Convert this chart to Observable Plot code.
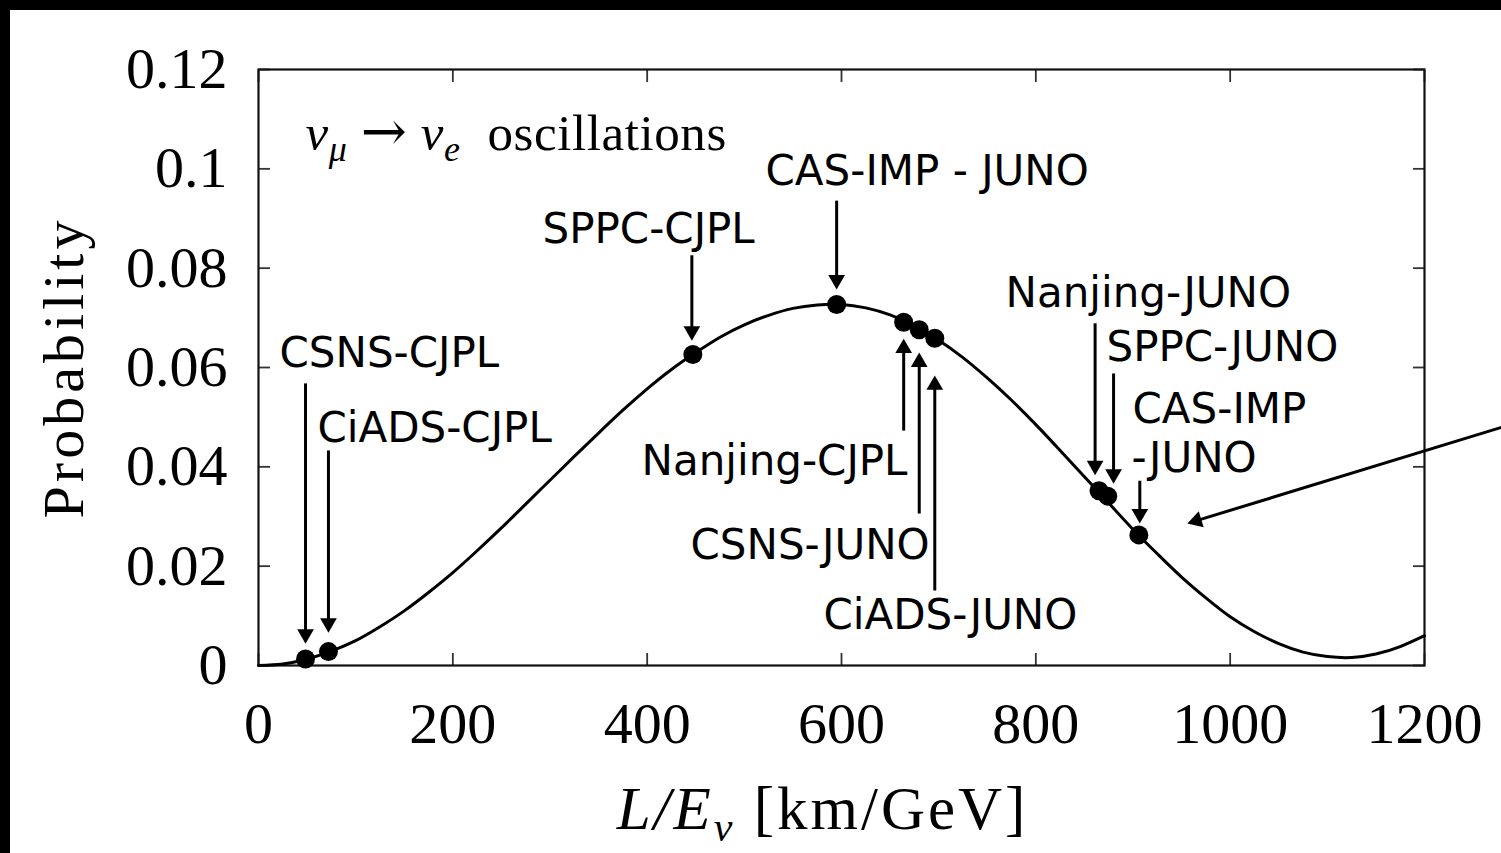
<!DOCTYPE html>
<html><head><meta charset="utf-8">
<script src="https://cdn.jsdelivr.net/npm/d3@7"></script>
<script src="https://cdn.jsdelivr.net/npm/@observablehq/plot@0.6"></script>
<style>
html,body{margin:0;padding:0;background:#fff;}
#wrap{position:relative;width:1501px;height:853px;overflow:hidden;background:#fff;}
#chart{position:absolute;left:0;top:0;}
.bar{position:absolute;background:#000;}
</style></head><body>
<div id="wrap"><div id="chart"></div>
<div class="bar" style="left:0;top:0;width:1501px;height:10px"></div>
<div class="bar" style="left:0;top:0;width:10px;height:853px"></div></div>
<script>
// ---- data ----
const xDomain = [0, 1200];
const yDomain = [0, 0.12];
const xTicks = [0, 200, 400, 600, 800, 1000, 1200];
const xTickLabels = ["0", "200", "400", "600", "800", "1000", "1200"];
const yTicks = [0, 0.02, 0.04, 0.06, 0.08, 0.1, 0.12];
const yTickLabels = ["0", "0.02", "0.04", "0.06", "0.08", "0.1", "0.12"];

const curveX = [0,25,50,75,100,125,150,175,200,225,250,275,300,325,350,375,400,425,450,475,500,525,550,575,600,625,650,675,700,725,750,775,800,825,850,875,900,925,950,975,1000,1025,1050,1075,1100,1125,1150,1175,1200];
const curveP = [0,0.0003,0.0013,0.0029,0.0050,0.0078,0.0110,0.0147,0.0187,0.0231,0.0277,0.0325,0.0373,0.0421,0.0468,0.0514,0.0557,0.0596,0.0630,0.0661,0.0686,0.0705,0.0719,0.0726,0.0727,0.0720,0.0706,0.0684,0.0655,0.0620,0.0579,0.0534,0.0485,0.0433,0.0380,0.0327,0.0274,0.0225,0.0178,0.0136,0.0098,0.0068,0.0044,0.0027,0.0018,0.0016,0.0023,0.0038,0.0060];

const pointNames = ["CSNS-CJPL","CiADS-CJPL","SPPC-CJPL","CAS-IMP-JUNO","Nanjing-CJPL","CSNS-JUNO","CiADS-JUNO","Nanjing-JUNO","SPPC-JUNO","CAS-IMP-JUNO (2)"];
const pointX = [48.4, 72, 447, 595, 664, 680, 696, 865, 874, 906];
const pointP = [0.0013, 0.0028, 0.0626, 0.0727, 0.0691, 0.0676, 0.0659, 0.0352, 0.0341, 0.0263];

const labelText = ["CSNS-CJPL","CiADS-CJPL","SPPC-CJPL","CAS-IMP - JUNO","Nanjing-CJPL","CSNS-JUNO","CiADS-JUNO","Nanjing-JUNO","SPPC-JUNO","CAS-IMP","-JUNO"];
const labelX = [21.6, 60.7, 292.3, 521.8, 394.2, 444.6, 581.5, 768.8, 872.7, 899.5, 898.5];
const labelY = [0.0602, 0.0451, 0.0850, 0.0968, 0.0383, 0.0215, 0.0074, 0.0721, 0.0614, 0.0489, 0.0389];

const arrowX1 = [48.4, 72, 446, 595, 664, 680, 696, 861, 880, 907, 1285];
const arrowY1 = [0.0568, 0.0433, 0.0826, 0.0936, 0.0473, 0.0306, 0.0151, 0.0689, 0.0588, 0.0372, 0.0483];
const arrowX2 = [48.4, 72, 446, 595, 664, 680, 696, 861, 880, 907, 956];
const arrowY2 = [0.0044, 0.0066, 0.0654, 0.0757, 0.0658, 0.0630, 0.0584, 0.0383, 0.0366, 0.0286, 0.0286];

const noteText = "\u03bd\u03bc \u2192 \u03bde oscillations";
const noteX = 48.4, noteY = 0.1037;
const xLabel = "L/E\u03bd [km/GeV]";
const yLabel = "Probability";

// ---- layout ----
const W = 1501, H = 853, mL = 258, mR = 77, mT = 69, mB = 188;
const serif = "'Liberation Serif', 'DejaVu Serif', serif";
const sans = "'DejaVu Sans', sans-serif";

const curve = curveX.map((x, i) => ({x, p: curveP[i]}));
const points = pointNames.map((name, i) => ({name, x: pointX[i], p: pointP[i]}));
const labels = labelText.map((t, i) => ({t, x: labelX[i], y: labelY[i]}));

const sx = d3.scaleLinear(xDomain, [mL, W - mR]);
const sy = d3.scaleLinear(yDomain, [H - mB, mT]);
const HEAD_R = 6.2, HEAD_BACK = 9.6;
const arrows = arrowX1.map((x1, i) => {
  const px1 = sx(x1), py1 = sy(arrowY1[i]), px2 = sx(arrowX2[i]), py2 = sy(arrowY2[i]);
  const L = Math.hypot(px2 - px1, py2 - py1);
  const ux = (px2 - px1) / L, uy = (py2 - py1) / L;
  return {
    x1, y1: arrowY1[i],
    hx: sx.invert(px2 - ux * HEAD_BACK), hy: sy.invert(py2 - uy * HEAD_BACK),
    rot: Math.atan2(ux, -uy) * 180 / Math.PI
  };
});

const plot = Plot.plot({
  width: W, height: H,
  marginLeft: mL, marginRight: mR, marginTop: mT, marginBottom: mB,
  style: {fontFamily: serif, fontSize: "58px", background: "white", color: "black", overflow: "visible"},
  x: {domain: xDomain, axis: null},
  y: {domain: yDomain, axis: null},
  marks: [
    Plot.axisX(xTicks, {anchor: "bottom", tickSize: -12, tickPadding: 48, stroke: "#333", strokeWidth: 1.8,
      tickFormat: d => xTickLabels[xTicks.indexOf(d)], label: null, fill: "black"}),
    Plot.axisX(xTicks, {anchor: "top", tickSize: -12, stroke: "#333", strokeWidth: 1.8, fill: "none", label: null}),
    Plot.axisY(yTicks, {anchor: "left", tickSize: -12, tickPadding: 43, stroke: "#333", strokeWidth: 1.8,
      tickFormat: d => yTickLabels[yTicks.indexOf(d)], label: null, fill: "black"}),
    Plot.axisY(yTicks, {anchor: "right", tickSize: -12, stroke: "#333", strokeWidth: 1.8, fill: "none", label: null}),
    Plot.frame({stroke: "#111", strokeWidth: 2.2}),
    Plot.line(curve, {x: "x", y: "p", stroke: "black", strokeWidth: 3, curve: "natural"}),
    Plot.dot(points, {x: "x", y: "p", r: 9.5, fill: "black", stroke: "none"}),
    Plot.link(arrows, {x1: "x1", y1: "y1", x2: "hx", y2: "hy", stroke: "black", strokeWidth: 3}),
    Plot.dot(arrows, {x: "hx", y: "hy", symbol: "triangle", r: HEAD_R, rotate: "rot", fill: "black", stroke: "none"}),
    Plot.text(labels, {x: "x", y: "y", text: "t", textAnchor: "start", lineAnchor: "bottom",
      fontFamily: sans, fontSize: 42, fill: "black"}),
    Plot.text([noteText], {x: () => noteX, y: () => noteY, text: d => d, textAnchor: "start", lineAnchor: "bottom",
      fontFamily: serif, fontSize: 51, fill: "black"}),
    Plot.text([xLabel], {frameAnchor: "bottom", dx: -19, dy: 163, text: d => d, textAnchor: "middle", lineAnchor: "bottom",
      fontFamily: serif, fontSize: 61, fill: "black"}),
    Plot.text([yLabel], {frameAnchor: "left", dx: -176, rotate: -90, text: d => d, textAnchor: "middle", lineAnchor: "bottom",
      fontFamily: serif, fontSize: 58, fill: "black"})
  ]
});

// rich text (italics + subscripts)
function richify(svg, plain, parts, extra) {
  d3.select(svg).selectAll("text").each(function() {
    if (this.textContent !== plain) return;
    const t = d3.select(this);
    t.text(null).style("white-space", "pre");
    if (extra) for (const k in extra) t.attr(k, extra[k]);
    parts.forEach(p => {
      const ts = t.append("tspan").text(p.t);
      if (p.i) ts.attr("font-style", "italic");
      if (p.s) ts.attr("font-size", p.s);
      if (p.f) ts.attr("font-family", p.f);
      if (p.dy) ts.attr("dy", p.dy);
    });
  });
}
richify(plot, xLabel, [
  {t: "L/E", i: 1}, {t: "\u03bd", i: 1, s: "42px", dy: "12px"}, {t: " [km/GeV]", dy: "-12px"}
], {"letter-spacing": "3px"});
richify(plot, noteText, [
  {t: "\u03bd", i: 1}, {t: "\u03bc", i: 1, s: "36px", dy: "11px"}, {t: " ", dy: "-11px"},
  {t: "\u2192", f: "'DejaVu Serif', serif", s: "55px"}, {t: " "},
  {t: "\u03bd", i: 1}, {t: "e", i: 1, s: "36px", dy: "11px"}, {t: "  oscillations", dy: "-11px"}
], {"letter-spacing": "0.6px"});
d3.select(plot).selectAll("text").filter(function() { return this.textContent === yLabel; }).attr("letter-spacing", "4px");

document.getElementById("chart").appendChild(plot);
</script></body></html>
